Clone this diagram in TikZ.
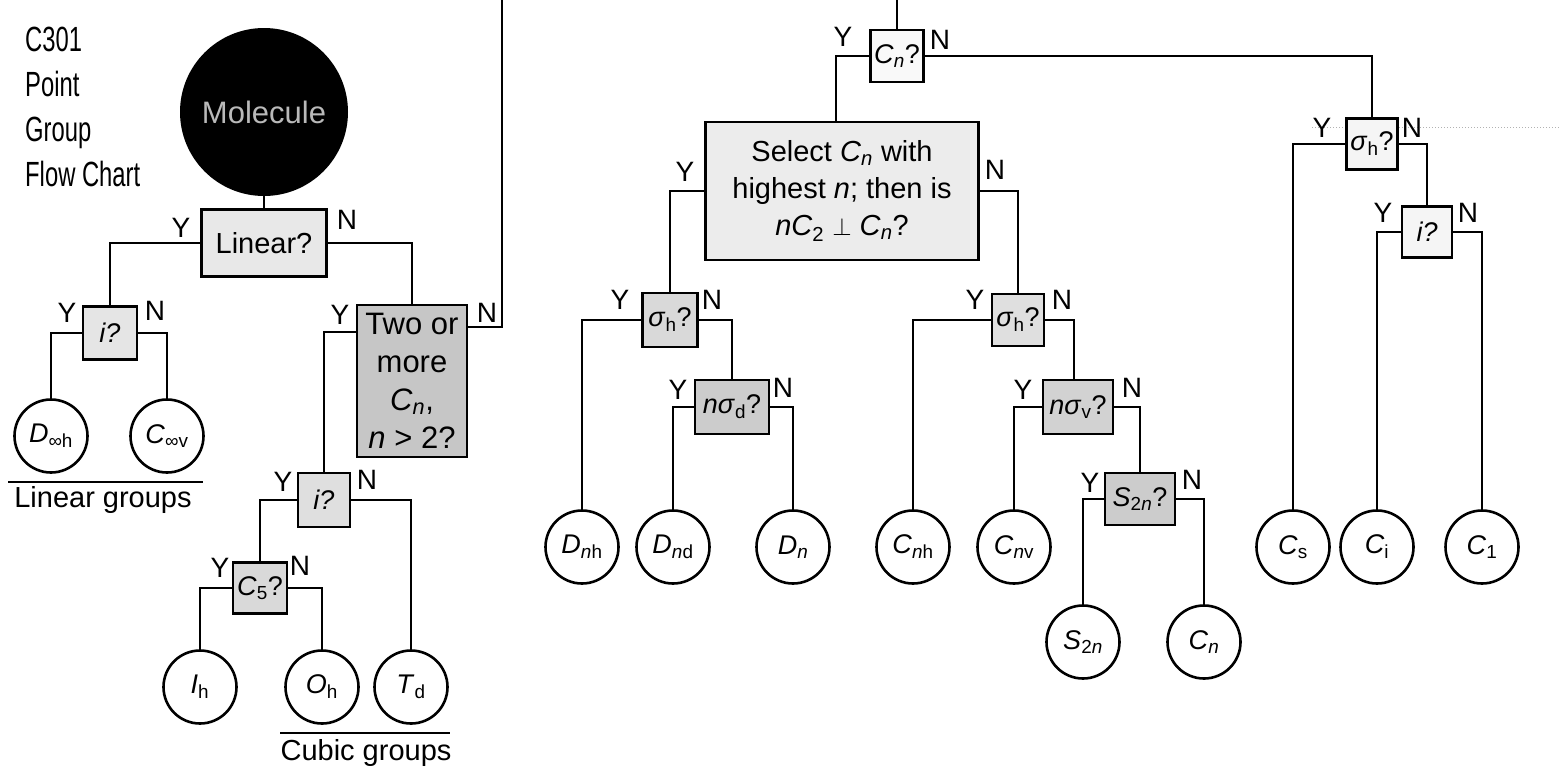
\documentclass[tikz,border=0pt]{standalone}
\usepackage{fontspec}
\setmainfont{Liberation Sans}
\usetikzlibrary{calc}
\newcommand\ssub[1]{\textsubscript{#1}}
\begin{document}
\begin{tikzpicture}[x=1pt,y=-1pt,
  conn/.style={line width=2.6pt},
  qbox/.style={draw, line width=2.6pt, inner sep=0pt, align=center, font=\fontsize{27}{30}\selectfont},
  res/.style={circle, draw, line width=2.6pt, minimum size=73pt, inner sep=0pt, font=\fontsize{27}{30}\selectfont},
  lab/.style={font=\fontsize{28}{30}\selectfont, inner sep=0pt},
  grp/.style={font=\fontsize{29}{32}\selectfont, inner sep=0pt},
]
\useasboundingbox (0,0) rectangle (1559,780);

% title
\node[anchor=north west, align=left, inner sep=0pt, font=\fontsize{35}{45}\selectfont] (title) at (25,27)
  {\scalebox{0.68}[1]{C301}\\\scalebox{0.68}[1]{Point}\\\scalebox{0.68}[1]{Group}\\\scalebox{0.68}[1]{Flow Chart}};

% start
\node[circle, fill=black, minimum size=168pt, inner sep=0pt, text=gray!55, font=\fontsize{31}{34}\selectfont] (mol) at (264,112) {Molecule};

% dotted artefact line
\draw[gray!60, dotted, line width=1pt] (1312,127) -- (1559,127);

% question boxes
\node[qbox, fill=gray!18, minimum width=125pt, minimum height=67pt, font=\fontsize{29}{32}\selectfont] (lin) at (264,243) {Linear?};
\node[qbox, fill=gray!20, minimum width=54pt, minimum height=53pt] (i1) at (110,333) {\textit{i?}};
\node[qbox, fill=gray!45, minimum width=110pt, minimum height=152pt, font=\fontsize{31}{38}\selectfont] (two) at (412,381)
  {Two or\\more\\\textit{C}\ssub{\textit{n}},\\\textit{n} > 2?};
\node[qbox, fill=gray!25, minimum width=52pt, minimum height=54pt] (i2) at (324,500) {\textit{i?}};
\node[qbox, fill=gray!30, minimum width=54pt, minimum height=51pt] (c5) at (260,588) {\textit{C}\ssub{5}?};

\node[qbox, fill=gray!5, minimum width=53pt, minimum height=52pt] (cn) at (897,56) {\textit{C}\ssub{\textit{n}}?};
\node[qbox, fill=gray!15, minimum width=273pt, minimum height=138pt, font=\fontsize{29}{37}\selectfont] (sel) at (842,191)
  {Select \textit{C}\ssub{\textit{n}} with\\highest \textit{n}; then is\\\textit{nC}\ssub{2} $\perp$ \textit{C}\ssub{\textit{n}}?};
\node[qbox, fill=gray!30, minimum width=55pt, minimum height=54pt] (sh1) at (670,320) {\textit{σ}\ssub{h}?};
\node[qbox, fill=gray!40, minimum width=74pt, minimum height=54pt] (nd) at (732,407) {\textit{nσ}\ssub{d}?};
\node[qbox, fill=gray!25, minimum width=52pt, minimum height=52pt] (sh2) at (1018,320) {\textit{σ}\ssub{h}?};
\node[qbox, fill=gray!35, minimum width=70pt, minimum height=54pt] (nv) at (1078,407) {\textit{nσ}\ssub{v}?};
\node[qbox, fill=gray!40, minimum width=70pt, minimum height=52pt] (s2) at (1140,499) {\textit{S}\ssub{2\textit{n}}?};
\node[qbox, fill=gray!8, minimum width=51pt, minimum height=51pt] (sh3) at (1372,144) {\textit{σ}\ssub{h}?};
\node[qbox, fill=gray!8, minimum width=50pt, minimum height=51pt] (i3) at (1427,232) {\textit{i?}};

% result circles
\node[res] (dinf) at (51,436) {\textit{D}\ssub{∞h}};
\node[res] (cinf) at (167,436) {\textit{C}\ssub{∞v}};
\node[res] (ih) at (200,687) {\textit{I}\ssub{h}};
\node[res] (oh) at (322,687) {\textit{O}\ssub{h}};
\node[res] (td) at (411,687) {\textit{T}\ssub{d}};
\node[res] (dnh) at (582,547) {\textit{D}\ssub{\textit{n}h}};
\node[res] (dnd) at (673,547) {\textit{D}\ssub{\textit{n}d}};
\node[res] (dn) at (793,547) {\textit{D}\ssub{\textit{n}}};
\node[res] (cnh) at (913,547) {\textit{C}\ssub{\textit{n}h}};
\node[res] (cnv) at (1014,547) {\textit{C}\ssub{\textit{n}v}};
\node[res] (s2n) at (1083,642) {\textit{S}\ssub{2\textit{n}}};
\node[res] (cnn) at (1204,642) {\textit{C}\ssub{\textit{n}}};
\node[res] (cs) at (1293,547) {\textit{C}\ssub{s}};
\node[res] (ci) at (1377,547) {\textit{C}\ssub{i}};
\node[res] (c1) at (1482,547) {\textit{C}\ssub{1}};

% off-page ends
\coordinate (topA) at (502,0);
\coordinate (topB) at (898,0);

% connectors
\draw[conn] (mol.south) -- (lin.north);
\draw[conn] (lin.west) -| (i1.north);
\draw[conn] (lin.east) -| (two.north);
\draw[conn] (i1.west) -| (dinf.north);
\draw[conn] (i1.east) -| (cinf.north);
\draw[conn] (two.west |- 0,332) -| (i2.north);
\draw[conn] (two.east |- 0,327) -| (topA);
\draw[conn] (i2.west) -| (c5.north);
\draw[conn] (i2.east) -| (td.north);
\draw[conn] (c5.west) -| (ih.north);
\draw[conn] (c5.east) -| (oh.north);

\draw[conn] (cn.north) -- (cn.north |- topB);
\draw[conn] (cn.west) -| ($(sel.north)+(-6,0)$);
\draw[conn] (cn.east) -| (sh3.north);
\draw[conn] (sel.west) -| (sh1.north);
\draw[conn] (sel.east) -| (sh2.north);
\draw[conn] (sh1.west) -| (dnh.north);
\draw[conn] (sh1.east) -| (nd.north);
\draw[conn] (nd.west) -| (dnd.north);
\draw[conn] (nd.east) -| (dn.north);
\draw[conn] (sh2.west) -| (cnh.north);
\draw[conn] (sh2.east) -| ($(nv.north)+(-4,0)$);
\draw[conn] (nv.west) -| (cnv.north);
\draw[conn] (nv.east) -| (s2.north);
\draw[conn] (s2.west) -| (s2n.north);
\draw[conn] (s2.east) -| (cnn.north);
\draw[conn] (sh3.west) -| (cs.north);
\draw[conn] (sh3.east) -| (i3.north);
\draw[conn] (i3.west) -| (ci.north);
\draw[conn] (i3.east) -| (c1.north);

% Y / N labels
\node[lab] (yLin) at (181,228) {Y};  \node[lab] (nLin) at (347,220) {N};
\node[lab] (yI1) at (67,313) {Y};    \node[lab] (nI1) at (155,311) {N};
\node[lab] (yTwo) at (340,315) {Y};  \node[lab] (nTwo) at (487,313) {N};
\node[lab] (yI2) at (283,482) {Y};   \node[lab] (nI2) at (367,480) {N};
\node[lab] (yC5) at (220,568) {Y};   \node[lab] (nC5) at (300,566) {N};
\node[lab] (yCn) at (843,37) {Y};    \node[lab] (nCn) at (940,40) {N};
\node[lab] (ySel) at (685,172) {Y};  \node[lab] (nSel) at (995,170) {N};
\node[lab] (ySh1) at (620,300) {Y};  \node[lab] (nSh1) at (712,300) {N};
\node[lab] (yNd) at (678,390) {Y};   \node[lab] (nNd) at (783,388) {N};
\node[lab] (ySh2) at (975,300) {Y};  \node[lab] (nSh2) at (1062,300) {N};
\node[lab] (yNv) at (1023,390) {Y};  \node[lab] (nNv) at (1132,388) {N};
\node[lab] (yS2) at (1090,483) {Y};  \node[lab] (nS2) at (1192,480) {N};
\node[lab] (ySh3) at (1322,128) {Y}; \node[lab] (nSh3) at (1412,128) {N};
\node[lab] (yI3) at (1383,213) {Y};  \node[lab] (nI3) at (1468,213) {N};

% group captions
\coordinate (linL) at (8,482); \coordinate (linR) at (203,482);
\draw[line width=1.8pt] (linL) -- (linR);
\node[grp] (lingrp) at (103,500) {Linear groups};
\coordinate (cubL) at (280,733); \coordinate (cubR) at (450,733);
\draw[line width=1.8pt] (cubL) -- (cubR);
\node[grp] (cubgrp) at (366,753) {Cubic groups};
\end{tikzpicture}
\end{document}
